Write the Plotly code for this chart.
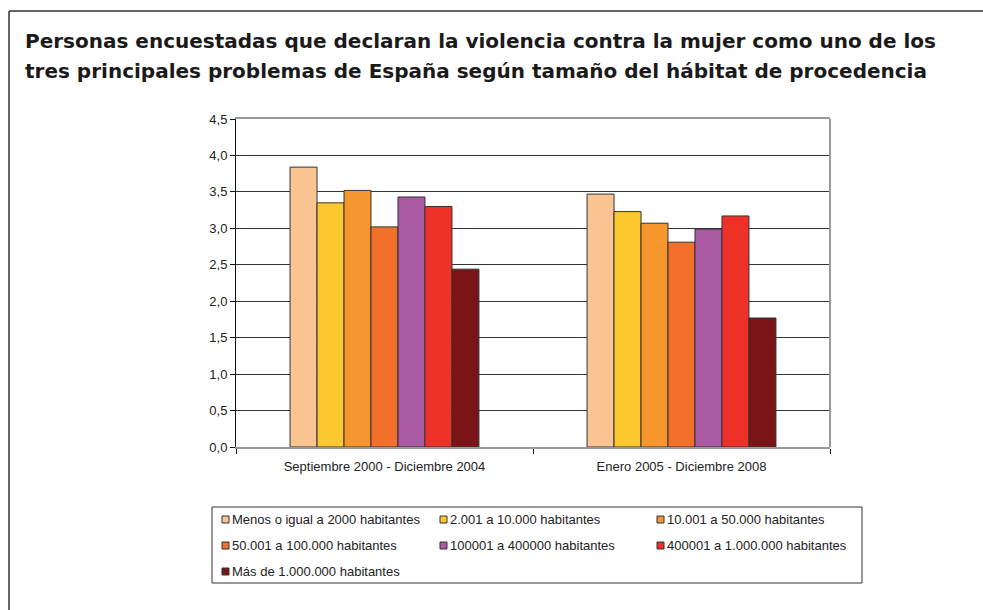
import plotly.graph_objects as go

periodos = ['Septiembre 2000 - Diciembre 2004', 'Enero 2005 - Diciembre 2008']

habitat = [
    'Menos o igual a 2000 habitantes',
    '2.001 a 10.000 habitantes',
    '10.001 a 50.000 habitantes',
    '50.001 a 100.000 habitantes',
    '100001 a 400000 habitantes',
    '400001 a 1.000.000 habitantes',
    'Más de 1.000.000 habitantes',
]

menos_2000 = [3.84, 3.47]
de_2001_10000 = [3.35, 3.23]
de_10001_50000 = [3.52, 3.07]
de_50001_100000 = [3.02, 2.81]
de_100001_400000 = [3.43, 2.99]
de_400001_1000000 = [3.30, 3.17]
mas_1000000 = [2.44, 1.77]

series = [menos_2000, de_2001_10000, de_10001_50000, de_50001_100000,
          de_100001_400000, de_400001_1000000, mas_1000000]

colores = ['#FBC493', '#FDC82F', '#F7962F', '#F26F2C', '#AA5AA2', '#EE3127', '#7A1416']

titulo = [
    'Personas encuestadas que declaran la violencia contra la mujer como uno de los',
    'tres principales problemas de España según tamaño del hábitat de procedencia',
]

W, H = 983, 610
L, R, T, B = 236, 830, 119, 447
pw, ph = R - L, B - T

def px_x(x):
    return (x - L) / pw

def px_y(y):
    return (B - y) / ph

fig = go.Figure()

for nombre, valores, color in zip(habitat, series, colores):
    fig.add_trace(go.Bar(
        x = periodos,
        y = valores,
        name = nombre,
        marker = dict(color = color, line = dict(color = '#333333', width = 1)),
    ))

fig.update_layout(
    width = W,
    height = H,
    margin = dict(l = L, r = W - R, t = T, b = H - B),
    paper_bgcolor = 'white',
    plot_bgcolor = 'white',
    barmode = 'group',
    bargap = 0.364,
    bargroupgap = 0,
    separators = ',.',
    font = dict(family = 'Liberation Sans, Arial, sans-serif', size = 13, color = '#222222'),
    showlegend = False,
)

fig.update_yaxes(
    range = [0, 4.5],
    dtick = 0.5,
    tickformat = '.1f',
    showgrid = True,
    gridcolor = '#333333',
    gridwidth = 1,
    showline = True,
    linecolor = '#111111',
    linewidth = 1,
    ticks = 'outside',
    ticklen = 5,
    tickcolor = '#111111',
    zeroline = False,
)

fig.update_xaxes(
    showline = True,
    linecolor = '#999999',
    linewidth = 2,
    mirror = True,
    ticks = 'outside',
    tickson = 'boundaries',
    ticklen = 5,
    tickcolor = '#111111',
    ticklabelstandoff = 6,
)

# borde derecho gris del area de trazado
fig.add_shape(type = 'line', xref = 'paper', yref = 'paper',
              x0 = 1, x1 = 1, y0 = 0, y1 = 1,
              line = dict(color = '#999999', width = 2))

# marco exterior: lado izquierdo y lado superior
fx0, fy0 = px_x(9), px_y(11)
fx1, fy1 = px_x(990), px_y(620)
fig.add_shape(type = 'line', xref = 'paper', yref = 'paper',
              x0 = fx0, x1 = fx0, y0 = fy1, y1 = fy0,
              line = dict(color = '#333333', width = 1.5))
fig.add_shape(type = 'line', xref = 'paper', yref = 'paper',
              x0 = fx0, x1 = fx1, y0 = fy0, y1 = fy0,
              line = dict(color = '#333333', width = 1.5))

for i, linea in enumerate(titulo):
    fig.add_annotation(
        text = '<b>' + linea + '</b>',
        xref = 'paper', yref = 'paper',
        x = px_x(23), y = px_y(27 + 30 * i),
        xanchor = 'left', yanchor = 'top',
        showarrow = False,
        font = dict(family = 'DejaVu Sans, sans-serif', size = 20, color = '#1a1a1a'),
    )

# leyenda: caja, muestras de color y textos
fig.add_shape(type = 'rect', xref = 'paper', yref = 'paper',
              x0 = px_x(212), x1 = px_x(862), y0 = px_y(583), y1 = px_y(507),
              line = dict(color = '#333333', width = 1), fillcolor = 'white')

col_x = [222, 440, 657]
row_y = [519, 545, 571]

for k, (nombre, color) in enumerate(zip(habitat, colores)):
    cx = col_x[k % 3]
    cy = row_y[k // 3]
    fig.add_shape(type = 'rect', xref = 'paper', yref = 'paper',
                  x0 = px_x(cx), x1 = px_x(cx + 7), y0 = px_y(cy + 4), y1 = px_y(cy - 3),
                  line = dict(color = '#333333', width = 1), fillcolor = color)
    fig.add_annotation(
        text = nombre,
        xref = 'paper', yref = 'paper',
        x = px_x(cx + 8), y = px_y(cy),
        xanchor = 'left', yanchor = 'middle',
        showarrow = False,
        font = dict(size = 13, color = '#222222'),
    )

# sin margen en el body ni barras de desplazamiento: la figura ocupa toda la ventana
fig.write_html('out.html',
               config = {'displayModeBar': False},
               post_script = "document.body.style.margin = '0';"
                             "document.documentElement.style.overflow = 'hidden';")
